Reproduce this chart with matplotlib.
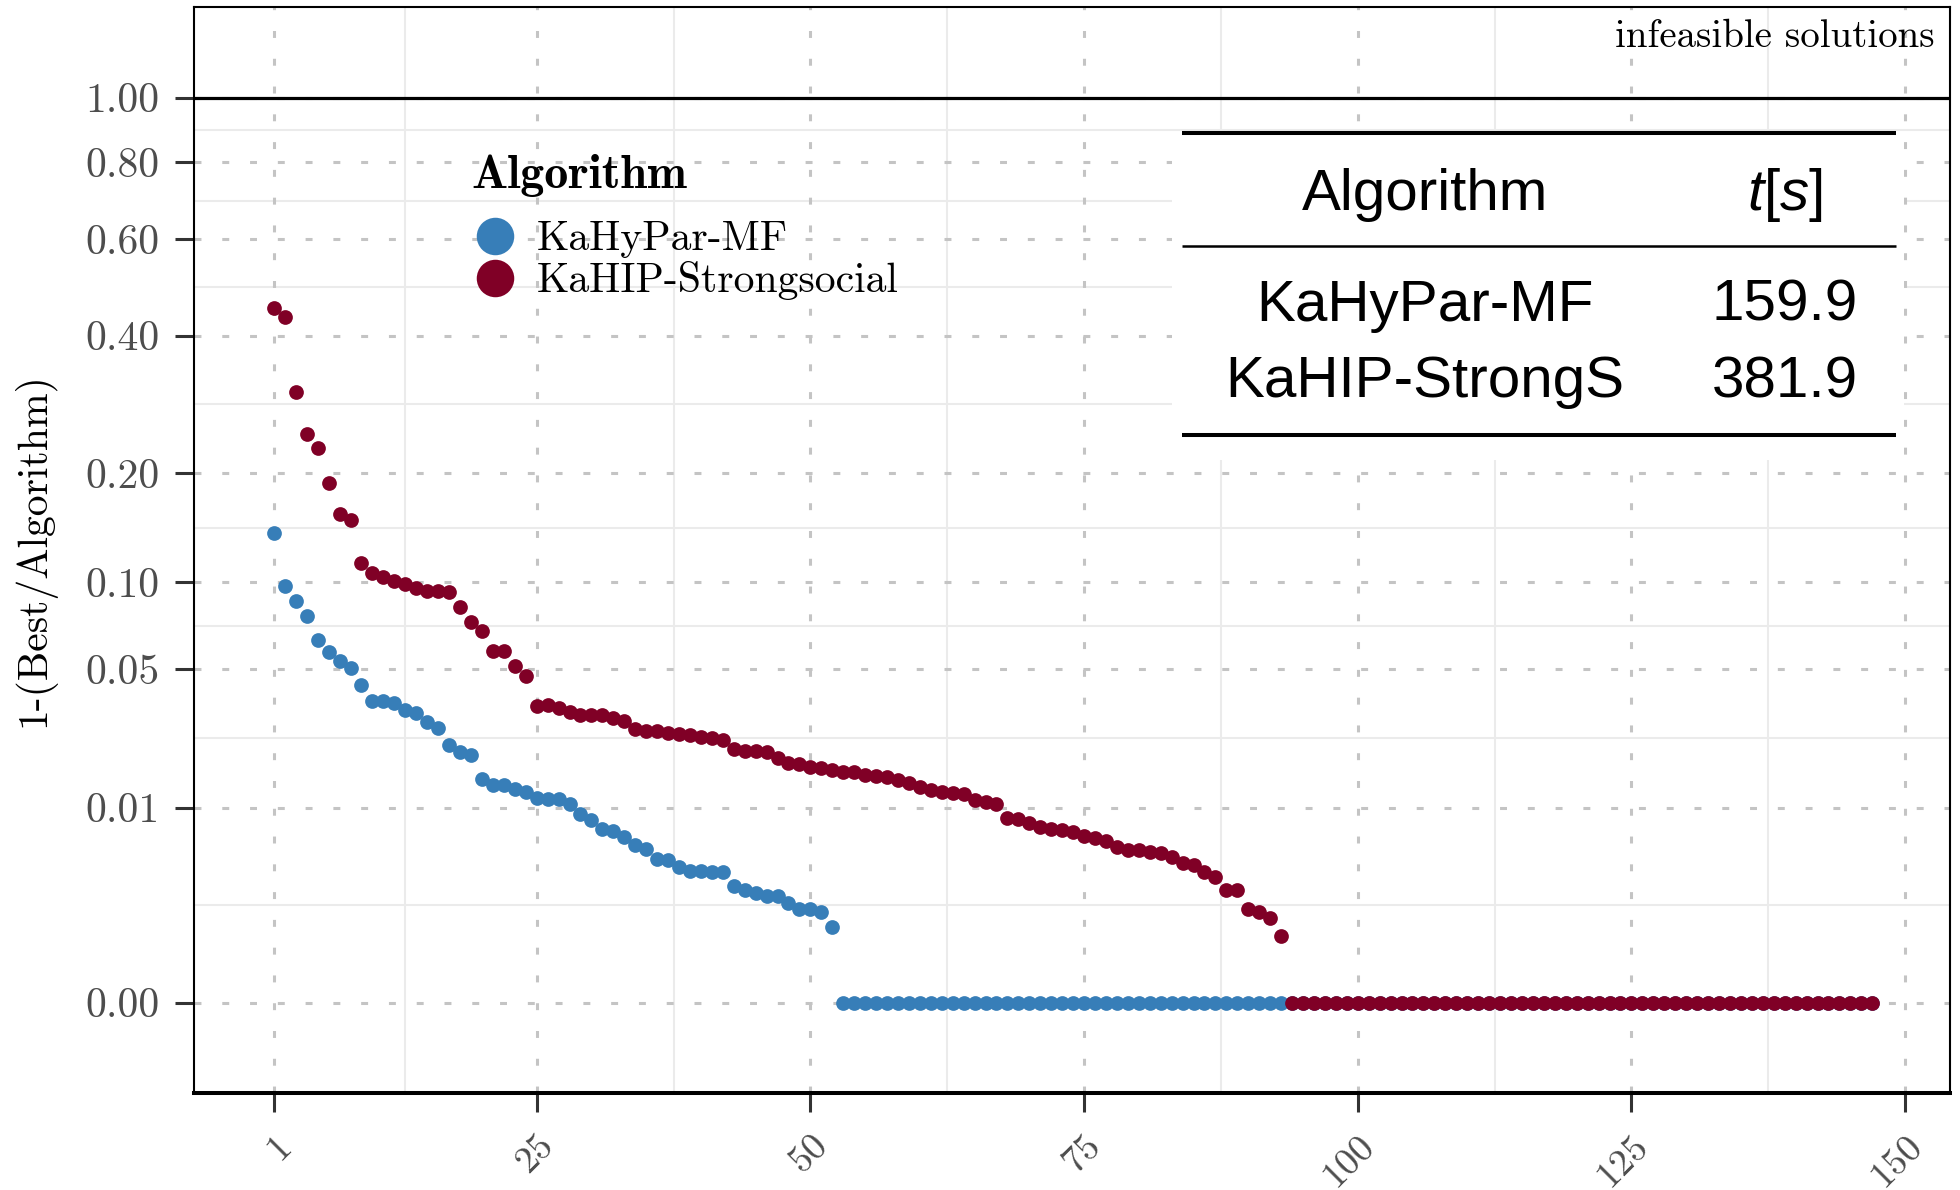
import numpy as np
import matplotlib
matplotlib.use("Agg")
import matplotlib.pyplot as plt
from matplotlib.lines import Line2D
from matplotlib.patches import Rectangle
from matplotlib.transforms import ScaledTranslation
from matplotlib.font_manager import FontProperties

plt.rcParams['axes.formatter.use_mathtext'] = True
plt.rcParams['lines.scale_dashes'] = False
plt.rcParams['mathtext.fontset'] = 'custom'
plt.rcParams['mathtext.rm'] = 'Liberation Sans'
plt.rcParams['mathtext.it'] = 'Liberation Sans:italic'

# ---------------- data ----------------
algorithms = ['KaHyPar-MF', 'KaHIP-Strongsocial']
colors = ['#377eb8', '#800026']
n_instances = 147

kahypar_nonzero = [0.1396, 0.0977, 0.0871, 0.0777, 0.0641, 0.0580, 0.0536, 0.0505, 0.0430, 0.0369,
                   0.0369, 0.0361, 0.0339, 0.0326, 0.0297, 0.0278, 0.0230, 0.0213, 0.0205, 0.0150,
                   0.0139, 0.0138, 0.0132, 0.0125, 0.0116, 0.0114, 0.0113, 0.0105, 0.0091, 0.0082,
                   0.0071, 0.0068, 0.0061, 0.0053, 0.0049, 0.0040, 0.0039, 0.00335, 0.00307, 0.00307,
                   0.00302, 0.00300, 0.00213, 0.00190, 0.00179, 0.00163, 0.00163, 0.00132, 0.00112, 0.00112,
                   0.00100, 0.00059]
kahypar_zero_count = 95

kahip_nonzero = [0.4526, 0.4352, 0.3077, 0.2477, 0.2299, 0.1891, 0.1568, 0.1511, 0.1148, 0.1069,
                 0.1040, 0.1008, 0.0991, 0.0961, 0.0938, 0.0938, 0.0931, 0.0835, 0.0741, 0.0690,
                 0.0585, 0.0585, 0.0513, 0.0471, 0.0353, 0.0355, 0.0345, 0.0330, 0.0320, 0.0320,
                 0.0320, 0.0312, 0.0300, 0.0275, 0.0271, 0.0271, 0.0265, 0.0261, 0.0259, 0.0252,
                 0.0251, 0.0245, 0.0219, 0.0214, 0.0214, 0.02126, 0.01977, 0.01859, 0.01819, 0.01758,
                 0.0174, 0.01692, 0.01658, 0.01658, 0.01579, 0.01568, 0.01552, 0.01477, 0.01419, 0.01355,
                 0.01293, 0.01263, 0.01245, 0.01215, 0.01113, 0.01092, 0.01059, 0.00851, 0.00828, 0.00775,
                 0.00728, 0.00700, 0.00695, 0.00668, 0.00622, 0.00596, 0.00568, 0.00506, 0.00478, 0.00478,
                 0.00459, 0.00447, 0.00418, 0.00369, 0.00350, 0.00302, 0.00269, 0.00191, 0.00191, 0.00109,
                 0.00100, 0.000805, 0.000397]
kahip_zero_count = 54

series = [kahypar_nonzero + [0.0] * kahypar_zero_count,
          kahip_nonzero + [0.0] * kahip_zero_count]

y_ticks = [0.0, 0.01, 0.05, 0.10, 0.20, 0.40, 0.60, 0.80, 1.00]
y_ticklabels = ['0.00', '0.01', '0.05', '0.10', '0.20', '0.40', '0.60', '0.80', '1.00']
x_ticks = [1, 25, 50, 75, 100, 125, 150]
x_ticklabels = ['1', '25', '50', '75', '100', '125', '150']

table_header = ['Algorithm', r'$t[s]$']
table_algos = ['KaHyPar-MF', 'KaHIP-StrongS']
table_times = ['159.9', '381.9']

ylabel = '1-(Best/Algorithm)'
infeasible_label = 'infeasible solutions'

# ---------------- figure ----------------
CM = 'cmr10'
fig = plt.figure(figsize=(19.6, 11.9), dpi=100)
ax = fig.add_axes([194 / 1960, 97 / 1190, (1950 - 194) / 1960, (1183 - 97) / 1190])

fwd = lambda v: np.cbrt(v)
inv = lambda v: np.power(v, 3)
ax.set_yscale('function', functions=(fwd, inv))
ax.set_ylim(inv(-0.1), inv(1.1))
ax.set_xlim(-6.3, 154.1)

# grid lines
grid_col = '#c4c4c4'
minor_col = '#ebebeb'
t_ticks = np.cbrt(np.array(y_ticks))
for m in (t_ticks[:-1] + t_ticks[1:]) / 2:
    ax.axhline(inv(m), color=minor_col, lw=1.5, zorder=0.3)
for xm in (np.array(x_ticks[:-1]) + np.array(x_ticks[1:])) / 2:
    ax.axvline(xm, color=minor_col, lw=1.5, zorder=0.3)
for yt in y_ticks:
    ax.axhline(yt, color=grid_col, lw=2.2, dashes=(5, 15), zorder=0.5)
for xt in x_ticks:
    ax.axvline(xt, color=grid_col, lw=2.2, dashes=(5, 15), zorder=0.5)

# table background box
ax.add_patch(Rectangle((0.557, 0.583), 0.974 - 0.557, 0.884 - 0.583, transform=ax.transAxes,
                       facecolor='white', edgecolor='none', zorder=1.0))

# points
x = np.arange(1, n_instances + 1)
handles = []
for vals, col, name in zip(series, colors, algorithms):
    ax.plot(x, vals, 'o', ms=10.6, mew=0, color=col, zorder=2, clip_on=False)
    handles.append(Line2D([], [], marker='o', ls='none', ms=27, mew=0, color=col, label=name))

# 1.00 line
ax.axhline(1.0, color='black', lw=2.3, zorder=2.5)

# axes styling
ax.set_yticks(y_ticks)
ax.set_yticklabels(y_ticklabels)
ax.set_xticks(x_ticks)
ax.set_xticklabels(x_ticklabels)
ax.minorticks_off()
ax.tick_params(axis='both', length=13.7, width=2.2, color='#333333', labelcolor='#4d4d4d',
               labelsize=30)
ax.tick_params(axis='y', pad=11)
ax.tick_params(axis='x', pad=10, labelsize=27.5)
for lab in ax.get_yticklabels():
    lab.set_fontfamily(CM)
for lab in ax.get_xticklabels():
    lab.set_fontfamily(CM)
    lab.set_rotation(45)
    lab.set_rotation_mode('anchor')
    lab.set_ha('right')
    lab.set_va('center')
    lab.set_transform(lab.get_transform() + ScaledTranslation(12 / 100, -14.5 / 100, fig.dpi_scale_trans))

for side in ['top', 'right', 'left']:
    ax.spines[side].set_linewidth(1.5)
ax.spines['bottom'].set_linewidth(2.9)
for s in ax.spines.values():
    s.set_color('black')

ax.set_ylabel(ylabel, fontsize=30, family=CM)
ax.yaxis.set_label_coords(-0.079, 0.5)

# infeasible label
ax.text(0.9914, 0.9632, infeasible_label, transform=ax.transAxes, ha='right', va='baseline',
        fontsize=28, family=CM, color='black', zorder=3)

# legend
leg = ax.legend(handles=handles, loc='upper left', bbox_to_anchor=(0.158, 0.8643), frameon=False,
                prop=FontProperties(family=CM, size=30), title='Algorithm',
                title_fontproperties=FontProperties(family='cmb10', size=34.5),
                handlelength=1.12, handletextpad=0.44, labelspacing=0.07, borderpad=0,
                borderaxespad=0, alignment='left')
leg._legend_box.sep = 16.9

# table (booktabs style)
x0, x1 = 0.5626, 0.9692
ax.plot([x0, x1], [0.8837, 0.8837], transform=ax.transAxes, color='black', lw=2.9, zorder=3,
        solid_capstyle='butt')
ax.plot([x0, x1], [0.7799, 0.7799], transform=ax.transAxes, color='black', lw=1.8, zorder=3,
        solid_capstyle='butt')
ax.plot([x0, x1], [0.6059, 0.6059], transform=ax.transAxes, color='black', lw=2.9, zorder=3,
        solid_capstyle='butt')
col_x = [0.701, 0.906]
tf = dict(transform=ax.transAxes, ha='center', va='baseline', fontsize=42,
          family='Liberation Sans', color='black', zorder=3)
ax.text(col_x[0], 0.8131, table_header[0], **tf)
ax.text(col_x[1], 0.8131, table_header[1], **tf)
for row_y, a, t in zip([0.7109, 0.6405], table_algos, table_times):
    ax.text(col_x[0], row_y, a, **tf)
    ax.text(col_x[1], row_y, t, **tf)

fig.savefig('out.png', dpi=100)
